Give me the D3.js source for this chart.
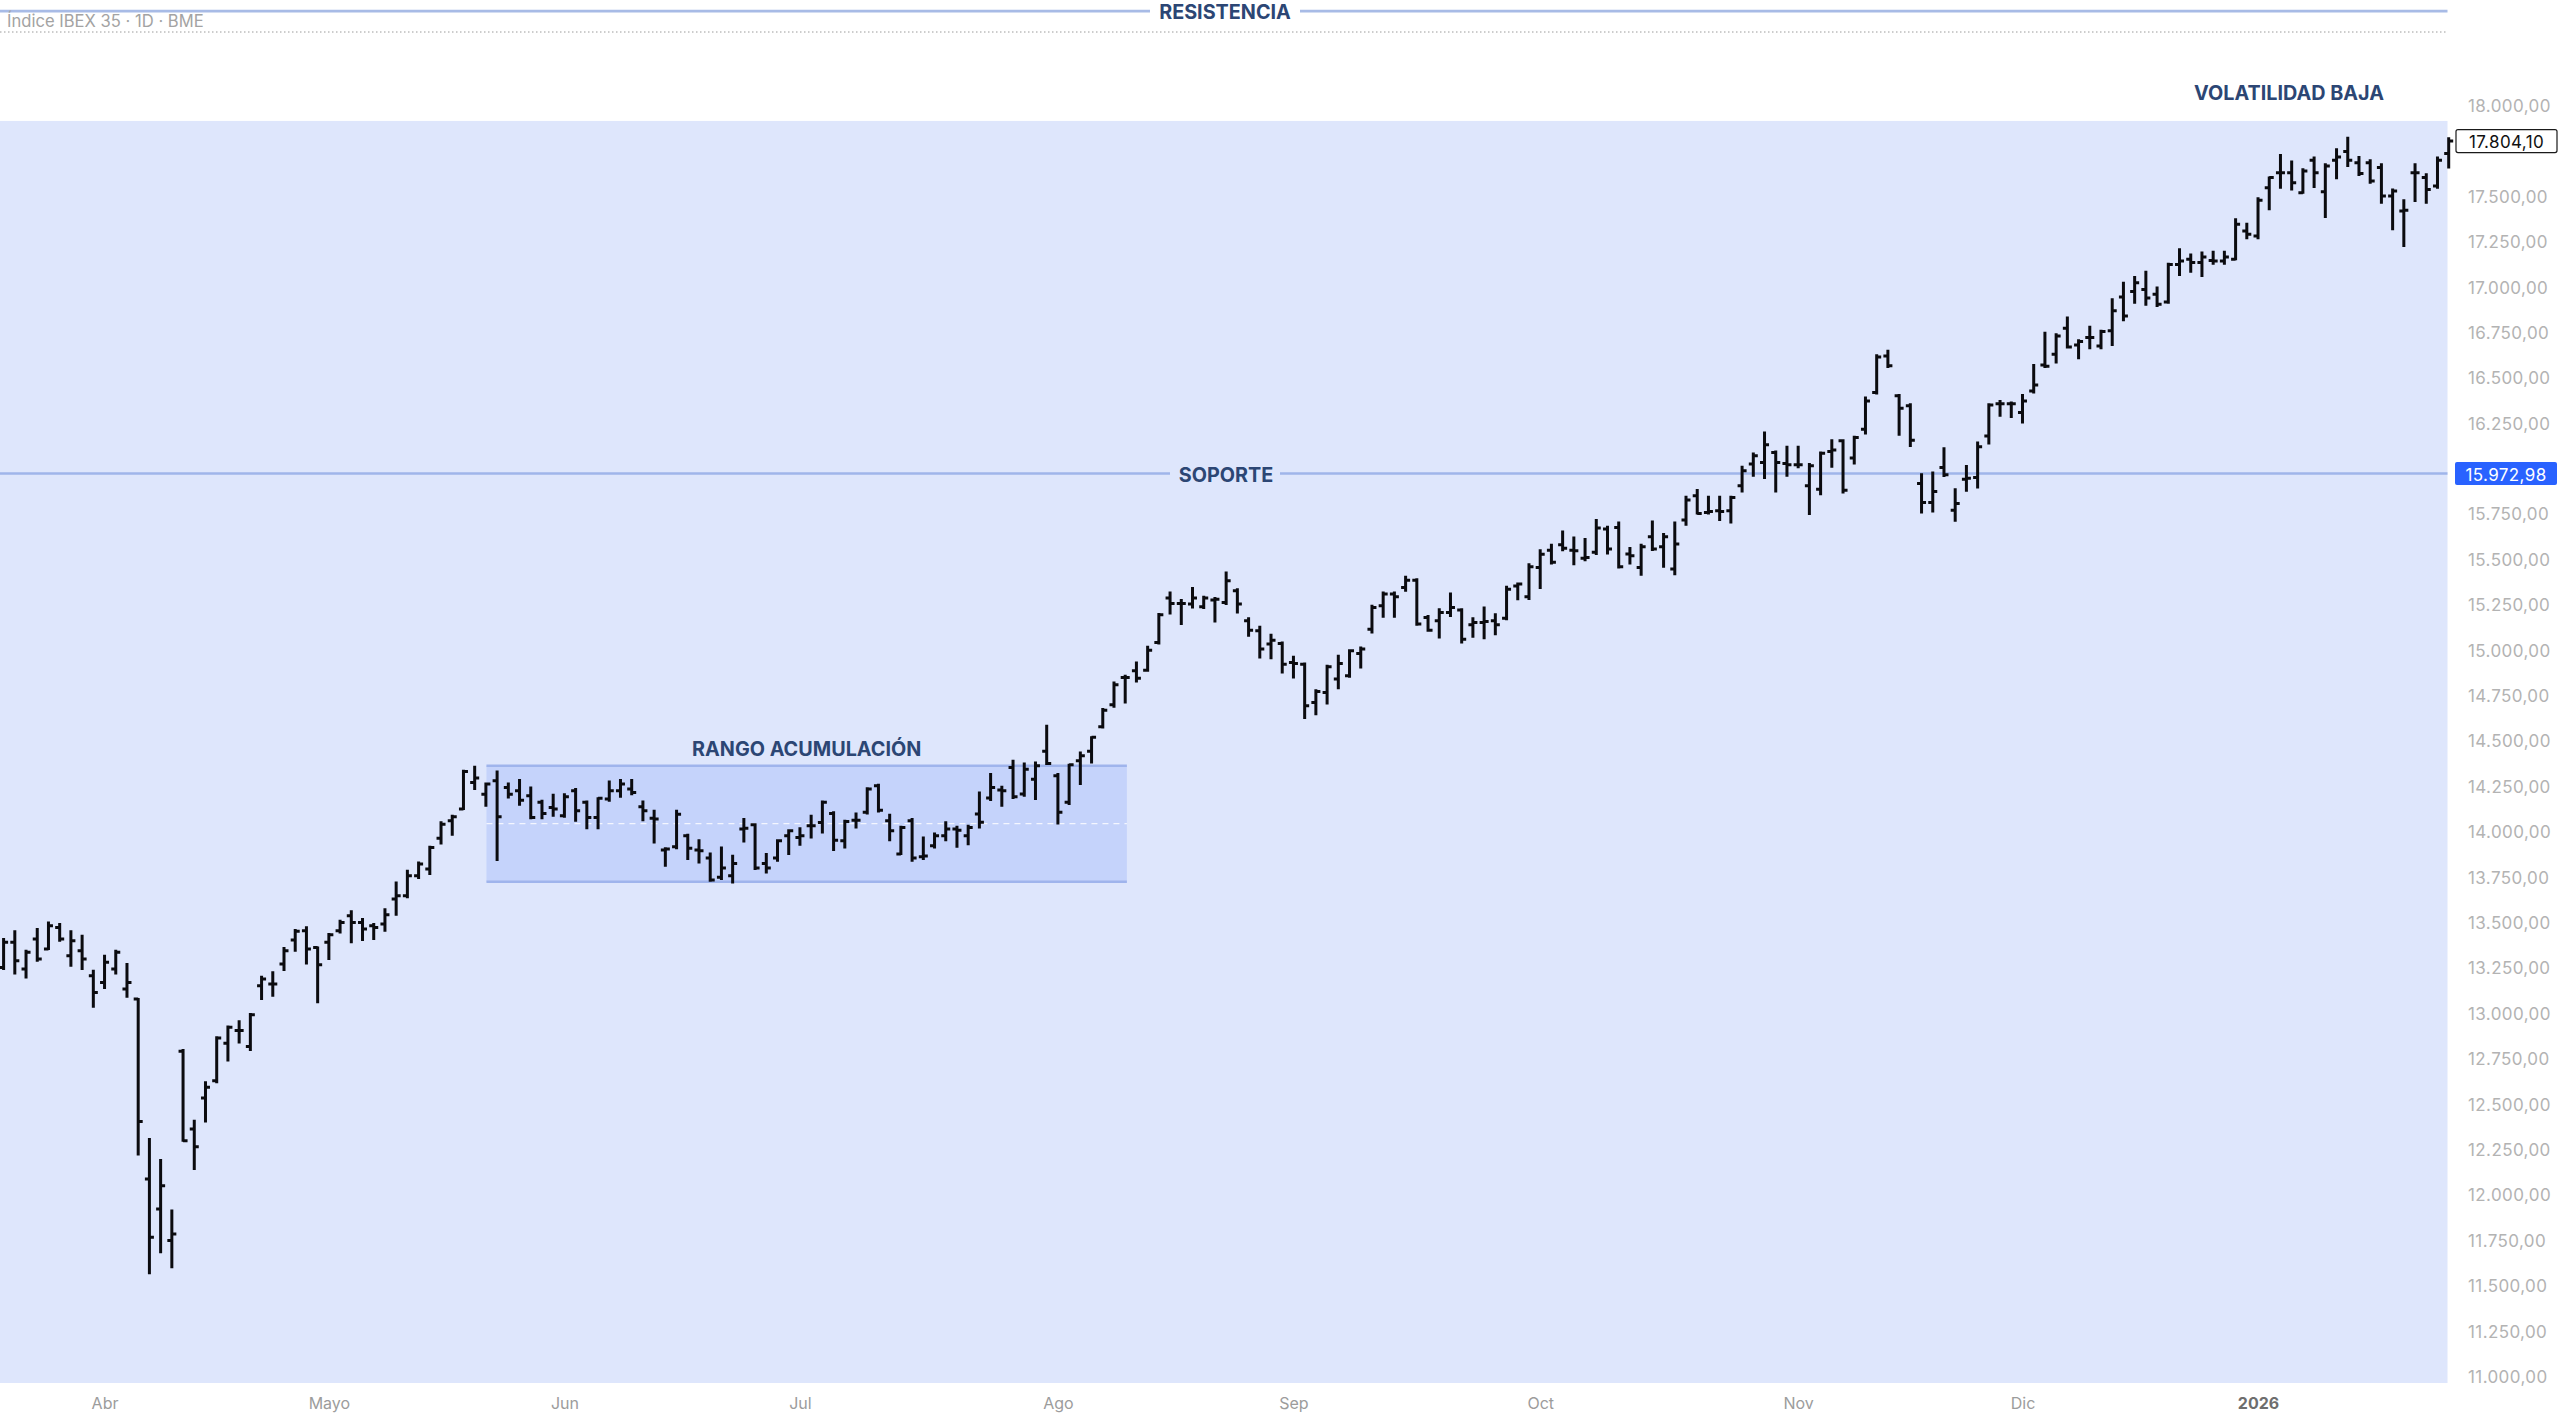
<!DOCTYPE html>
<html>
<head>
<meta charset="utf-8">
<script src="https://cdn.jsdelivr.net/npm/d3@7"></script>
<style>
  html, body { margin: 0; padding: 0; background: #ffffff; }
  svg { display: block; }
  text { font-family: Inter, "Noto Sans", "DejaVu Sans", sans-serif; }
</style>
</head>
<body>
<svg id="chart" width="2560" height="1419"></svg>
<script>
// ---------------- DATA (IBEX 35, daily OHLC, bar index 0..218) ----------------
const open = [
13253,13391,13244,13409,13354,13473,13317,13345,13207,13170,13244,13134,13079,12088,11923,11749,12791,12363,12534,12629,
12835,12905,12817,13152,13162,13272,13404,13455,13363,13391,13455,13538,13501,13483,13492,13630,13648,13758,13795,13965,
14061,14125,14272,14207,14281,14244,14226,14198,14162,14134,14088,14226,14162,14079,14180,14226,14235,14138,14075,13899,
13918,13978,13899,13855,13749,13758,14015,14039,13826,13855,13978,13969,14033,14051,14101,13951,14064,14107,14253,14061,
13877,14061,13863,13923,13978,14015,13978,14098,14186,14230,14354,14208,14290,14443,14309,14162,14391,14443,14578,14699,
14850,14887,14890,15043,15287,15257,15254,15239,15276,15263,15327,15162,15107,15034,15037,14933,14923,14712,14767,14841,
14859,14982,15116,15245,15309,15345,15386,15180,15162,15208,15221,15140,15153,15162,15176,15354,15295,15456,15551,15581,
15551,15507,15539,15667,15676,15530,15456,15625,15570,15447,15717,15851,15759,15768,15768,15906,16025,16034,16089,16029,
16021,15906,15887,16094,16153,16058,16217,16419,16621,16401,16346,15918,15813,16006,15771,15942,15951,16180,16358,16358,
16309,16428,16571,16630,16773,16681,16722,16676,16759,16946,16975,16986,16960,16918,17125,17153,17135,17147,17144,17153,
17309,17281,17547,17630,17630,17520,17698,17525,17698,17746,17685,17685,17658,17502,17419,17630,17603,17557,17735];
const high = [
13409,13452,13345,13464,13501,13492,13452,13427,13235,13317,13345,13272,13079,12308,12193,11914,12798,12409,12620,12868,
12927,12956,12996,13202,13226,13360,13459,13474,13363,13437,13510,13562,13519,13492,13574,13721,13786,13831,13918,14052,
14088,14336,14358,14266,14332,14266,14285,14244,14171,14204,14207,14235,14167,14185,14277,14285,14285,14167,14116,13910,
14116,13984,13954,13881,13914,13868,14070,14042,13877,13954,14009,14020,14088,14167,14107,14061,14101,14240,14259,14094,
14028,14070,13969,13991,14052,14028,14033,14217,14318,14248,14391,14376,14382,14584,14318,14369,14437,14520,14676,14822,
14859,14932,15019,15199,15318,15276,15342,15294,15287,15428,15336,15176,15129,15085,15043,14964,14927,14780,14914,14969,
15000,15015,15245,15318,15318,15404,15391,15189,15226,15312,15226,15176,15235,15198,15349,15367,15474,15551,15581,15654,
15621,15612,15717,15680,15704,15563,15581,15709,15640,15704,15845,15882,15845,15845,15845,16010,16084,16199,16095,16120,
16120,16025,16089,16157,16157,16175,16392,16625,16649,16406,16355,15969,15979,16113,15887,16015,16144,16355,16373,16364,
16406,16571,16749,16740,16832,16707,16781,16759,16933,17024,17056,17085,16997,17129,17208,17180,17190,17195,17195,17373,
17349,17489,17603,17727,17691,17649,17713,17676,17759,17823,17716,17698,17676,17538,17478,17676,17621,17713,17819];
const low = [
13244,13220,13198,13290,13354,13400,13262,13244,13037,13139,13220,13092,12222,11569,11684,11602,12299,12143,12405,12620,
12740,12840,12798,13079,13097,13239,13345,13275,13061,13299,13446,13391,13404,13409,13455,13543,13639,13745,13767,13936,
13984,14125,14235,14143,13844,14189,14149,14075,14075,14088,14083,14061,14020,14020,14171,14193,14207,14064,13941,13813,
13910,13850,13831,13730,13740,13721,13947,13795,13776,13840,13877,13929,13969,13996,13899,13914,14024,14101,14112,13954,
13877,13840,13850,13914,13954,13918,13932,14024,14175,14143,14186,14199,14180,14373,14046,14153,14263,14382,14575,14688,
14712,14828,14887,15037,15202,15144,15235,15232,15158,15254,15208,15079,14960,14956,14877,14850,14626,14648,14707,14791,
14854,14905,15098,15184,15184,15327,15140,15107,15070,15189,15043,15074,15066,15088,15171,15281,15282,15342,15478,15551,
15474,15496,15530,15533,15456,15478,15416,15552,15460,15419,15691,15753,15753,15717,15704,15874,15961,15948,15874,15961,
16007,15750,15859,16010,15869,16028,16193,16414,16560,16186,16125,15758,15764,15960,15713,15878,15896,16138,16291,16285,
16254,16419,16560,16584,16667,16608,16663,16663,16681,16817,16914,16902,16896,16914,17067,17085,17061,17129,17129,17153,
17269,17269,17428,17547,17538,17520,17551,17386,17599,17667,17617,17575,17465,17318,17226,17474,17465,17547,17658];
const close = [
13391,13290,13336,13299,13483,13409,13400,13299,13115,13281,13336,13170,12405,11767,12051,11785,12299,12266,12593,12864,
12923,12905,12993,13189,13162,13345,13452,13354,13268,13433,13501,13501,13464,13473,13543,13648,13758,13822,13914,14042,
14083,14332,14296,14263,14083,14207,14174,14079,14101,14125,14193,14116,14079,14185,14226,14263,14217,14116,14070,13905,
14097,13910,13896,13734,13800,13826,14020,13800,13800,13951,14006,13978,14033,14162,13954,14057,14064,14235,14119,14006,
14024,13855,13866,13978,14015,14009,14024,14052,14244,14226,14193,14345,14364,14376,14107,14369,14419,14520,14670,14810,
14850,14846,15000,15195,15257,15257,15287,15287,15281,15382,15254,15110,15006,15055,14923,14927,14694,14773,14909,14927,
14997,15006,15235,15309,15294,15386,15144,15110,15208,15235,15061,15153,15158,15140,15336,15364,15460,15529,15484,15562,
15548,15511,15673,15557,15460,15520,15570,15557,15625,15585,15827,15753,15764,15764,15841,15988,16071,16131,16034,16021,
16021,16016,16085,16102,15881,16171,16373,16615,16566,16333,16157,15813,15874,15966,15808,15947,16120,16351,16358,16358,
16373,16461,16564,16731,16670,16700,16722,16755,16869,16841,17024,16940,16905,17125,17144,17135,17166,17144,17166,17346,
17291,17478,17603,17630,17575,17639,17630,17667,17716,17698,17625,17584,17502,17529,17423,17630,17538,17698,17804.10];

// x-axis month labels (bar index of first session of each month)
const monthTickIndex  = [9, 29, 50, 71, 94, 115, 137, 160, 180, 201];
const monthTickLabels = ["Abr", "Mayo", "Jun", "Jul", "Ago", "Sep", "Oct", "Nov", "Dic", "2026"];

// y-axis tick values (16.000 and 17.750 sit behind the price flags)
const priceTicks = [11000,11250,11500,11750,12000,12250,12500,12750,13000,13250,13500,13750,
                    14000,14250,14500,14750,15000,15250,15500,15750,16250,16500,16750,
                    17000,17250,17500,18000];

// drawings
const resistanceLevel = 18520;
const supportLevel = 15972.98;
const lastPrice = 17804.10;
const rangeBox = { i0: 43.05, i1: 100.15, top: 14364, bottom: 13725 };
const volBox   = { top: 17915, bottom: 10955 };

// ---------------- CHART ----------------
const W = 2560, H = 1419;
const plotRight = 2447.5, plotBottom = 1383;
const svg = d3.select("#chart");
svg.append("rect").attr("width", W).attr("height", H).attr("fill", "#ffffff");

const x = d3.scaleLinear().domain([0, 218]).range([3.6, 2448.7]);
const y = d3.scaleLinear().domain([11000, 18000]).range([1376.5, 105.5]);

const locale = d3.formatLocale({ decimal: ",", thousands: ".", grouping: [3], currency: ["", ""] });
const fmt = locale.format(",.2f");
const labelColor = "#2c4674";
const labelSize = 19.8;

// volatility rectangle (whole lower area)
svg.append("rect")
  .attr("x", 0).attr("width", plotRight)
  .attr("y", y(volBox.top))
  .attr("height", Math.min(plotBottom, y(volBox.bottom)) - y(volBox.top))
  .attr("fill", "#dee6fc");

svg.append("text")
  .attr("x", 2289).attr("y", 93)
  .attr("text-anchor", "middle").attr("dominant-baseline", "central")
  .attr("font-size", labelSize).attr("font-weight", 700).attr("fill", labelColor)
  .text("VOLATILIDAD BAJA");

// top dotted line
svg.append("line")
  .attr("x1", 0).attr("x2", plotRight).attr("y1", 32).attr("y2", 32)
  .attr("stroke", "#9a9a9a").attr("stroke-width", 1).attr("stroke-dasharray", "1.5,2.5");

// resistance line
svg.append("line")
  .attr("x1", 0).attr("x2", plotRight).attr("y1", y(resistanceLevel)).attr("y2", y(resistanceLevel))
  .attr("stroke", "#a8bbe6").attr("stroke-width", 2.6);
const resG = svg.append("g");
resG.append("rect").attr("x", 1150).attr("y", y(resistanceLevel) - 12).attr("width", 150).attr("height", 22).attr("fill", "#ffffff");
resG.append("text")
  .attr("x", 1225).attr("y", y(resistanceLevel) + 1)
  .attr("text-anchor", "middle").attr("dominant-baseline", "central")
  .attr("font-size", labelSize).attr("font-weight", 700).attr("fill", labelColor)
  .text("RESISTENCIA");

// title
svg.append("text")
  .attr("x", 7).attr("y", 21)
  .attr("dominant-baseline", "central")
  .attr("font-size", 16.6).attr("fill", "#a3a3a3")
  .text("Índice IBEX 35 · 1D · BME");

// range box
const rb = svg.append("g");
rb.append("rect")
  .attr("x", x(rangeBox.i0)).attr("width", x(rangeBox.i1) - x(rangeBox.i0))
  .attr("y", y(rangeBox.top)).attr("height", y(rangeBox.bottom) - y(rangeBox.top))
  .attr("fill", "#c5d3fb");
[rangeBox.top, rangeBox.bottom].forEach(v => {
  rb.append("line")
    .attr("x1", x(rangeBox.i0)).attr("x2", x(rangeBox.i1))
    .attr("y1", y(v)).attr("y2", y(v))
    .attr("stroke", "#9fb4ec").attr("stroke-width", 2.5);
});
rb.append("line")
  .attr("x1", x(rangeBox.i0)).attr("x2", x(rangeBox.i1))
  .attr("y1", y((rangeBox.top + rangeBox.bottom) / 2)).attr("y2", y((rangeBox.top + rangeBox.bottom) / 2))
  .attr("stroke", "#f4f6ff").attr("stroke-width", 1.2).attr("stroke-dasharray", "6,5");
rb.append("text")
  .attr("x", (x(rangeBox.i0) + x(rangeBox.i1)) / 2).attr("y", y(rangeBox.top) - 17)
  .attr("text-anchor", "middle").attr("dominant-baseline", "central")
  .attr("font-size", labelSize).attr("font-weight", 700).attr("fill", labelColor)
  .text("RANGO ACUMULACIÓN");

// support line
svg.append("line")
  .attr("x1", 0).attr("x2", plotRight).attr("y1", y(supportLevel)).attr("y2", y(supportLevel))
  .attr("stroke", "#9fb5ea").attr("stroke-width", 2.6);
svg.append("rect").attr("x", 1170).attr("y", y(supportLevel) - 11).attr("width", 110).attr("height", 22).attr("fill", "#dee6fc");
svg.append("text")
  .attr("x", 1226).attr("y", y(supportLevel) + 1)
  .attr("text-anchor", "middle").attr("dominant-baseline", "central")
  .attr("font-size", labelSize).attr("font-weight", 700).attr("fill", labelColor)
  .text("SOPORTE");

// OHLC bars
const data = open.map((o, i) => ({ i, o, h: high[i], l: low[i], c: close[i] }));
const bars = svg.append("g")
  .attr("stroke", "#0b0b0f").attr("stroke-width", 3).attr("stroke-linecap", "butt");
const tick = 4.5;
bars.selectAll("path").data(data).join("path")
  .attr("fill", "none")
  .attr("d", d => {
    const cx = x(d.i);
    return `M${cx},${y(d.h) - 1}V${y(d.l) + 1}` +
           `M${cx - tick},${y(d.o)}H${cx}` +
           `M${cx},${y(d.c)}H${cx + tick}`;
  });

// Y axis
const yAxis = d3.axisRight(y).tickValues(priceTicks).tickSize(0).tickPadding(0).tickFormat(fmt);
const yg = svg.append("g").attr("transform", "translate(2468,0)").call(yAxis);
yg.select(".domain").remove();
yg.selectAll("text")
  .attr("font-family", "Inter, 'Noto Sans', sans-serif")
  .attr("font-size", 17).attr("fill", "#b3b3b3").attr("dy", "0.35em")
  .attr("letter-spacing", "0.4");

// last price label
const lp = svg.append("g");
lp.append("rect").attr("x", 2456).attr("y", y(lastPrice) - 11.5).attr("width", 101).attr("height", 23)
  .attr("rx", 2).attr("fill", "#ffffff").attr("stroke", "#1a1a1a").attr("stroke-width", 1.2);
lp.append("text").attr("x", 2506.5).attr("y", y(lastPrice) + 1)
  .attr("text-anchor", "middle").attr("dominant-baseline", "central")
  .attr("font-size", 17).attr("fill", "#111").attr("letter-spacing", "0.4").text(fmt(lastPrice));

// support price label
const sp = svg.append("g");
sp.append("rect").attr("x", 2455).attr("y", y(supportLevel) - 11.5).attr("width", 102).attr("height", 23)
  .attr("rx", 2).attr("fill", "#2962ff");
sp.append("text").attr("x", 2506).attr("y", y(supportLevel) + 1)
  .attr("text-anchor", "middle").attr("dominant-baseline", "central")
  .attr("font-size", 17).attr("fill", "#ffffff").attr("letter-spacing", "0.4").text(fmt(supportLevel));

// X axis (month labels)
const xAxis = d3.axisBottom(x).tickValues(monthTickIndex).tickSize(0).tickPadding(0)
  .tickFormat((d, k) => monthTickLabels[k]);
const xg = svg.append("g").attr("transform", `translate(0,${1403})`).call(xAxis);
xg.select(".domain").remove();
xg.selectAll("text")
  .attr("dy", "0.35em").attr("y", 0)
  .attr("font-family", "Inter, 'Noto Sans', sans-serif")
  .attr("font-size", 16)
  .attr("fill", (d, k) => monthTickLabels[k] === "2026" ? "#6e6e6e" : "#9c9c9c")
  .attr("font-weight", (d, k) => monthTickLabels[k] === "2026" ? 700 : 400);
</script>
</body>
</html>
